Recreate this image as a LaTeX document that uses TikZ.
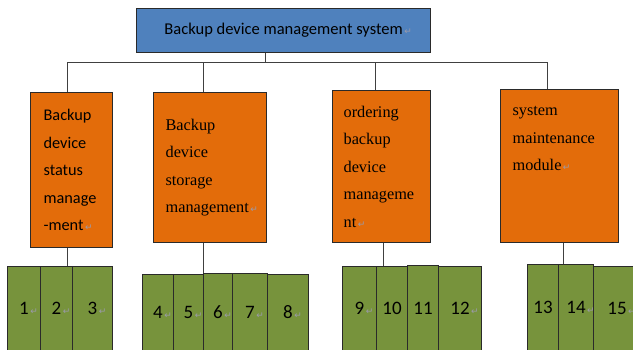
\documentclass[tikz,border=0pt]{standalone}
\usepackage{fontspec}
\setmainfont{Liberation Serif}
\newfontfamily\calfont{Carlito}
\newfontfamily\markfont{DejaVu Sans}
\usepackage{tikz}
\definecolor{sysblue}{HTML}{4F81BD}
\definecolor{modorange}{HTML}{E36C0A}
\definecolor{cellgreen}{HTML}{77933C}
\definecolor{edgegray}{HTML}{2A2A2A}
\definecolor{markgray}{HTML}{9A9AAA}
\tikzset{sysbox/.style={draw=edgegray,line width=1.2pt,fill=sysblue,anchor=north west,inner sep=0pt,font=\calfont\fontsize{16.5}{20}\selectfont}}
\tikzset{module/.style={draw=edgegray,line width=1.2pt,fill=modorange,anchor=north west,inner ysep=0pt,inner xsep=12pt,align=left,font=\fontsize{16.3}{27.5}\selectfont}}
\tikzset{cell/.style={draw=edgegray,line width=1.1pt,fill=cellgreen,anchor=north west,inner sep=0pt,font=\calfont\fontsize{19}{19}\selectfont}}
\tikzset{link/.style={draw=black!75,line width=0.9pt}}
\newcommand*{\RetMark}{\rlap{\markfont\fontsize{9}{9}\selectfont\color{markgray}\,↵}}

\begin{document}
\begin{tikzpicture}[x=1pt,y=1pt]
\clip (0,0) rectangle (633,-349);% page = picture

\node[sysbox,minimum width=294,minimum height=44] (sys) at (136,-8) {Backup device management system\RetMark};

\node[module,inner xsep=13pt,text width=56pt,minimum height=155,font=\calfont\fontsize{16.3}{27.5}\selectfont] (m1) at (30,-92) {Backup\\device\\status\\manage\\-ment\RetMark};
\node[module,text width=89pt,minimum height=150] (m2) at (153,-92) {Backup\\device\\storage\\management\RetMark};
\node[module,inner xsep=11pt,text width=76pt,minimum height=152] (m3) at (332,-90) {ordering\\backup\\device\\manageme\\nt\RetMark};
\node[module,text width=94pt,minimum height=153] (m4) at (500,-89) {system\\maintenance\\module\RetMark\\\mbox{}\\\mbox{}};

\foreach \n/\x/\w/\t/\txt in {1/7/33/266/1\RetMark, 2/40/32/266/2\RetMark, 3/72/40/266/3\RetMark,
    4/142/31/274/4\RetMark, 5/173/30/274/5\RetMark, 6/203/29/273/6\RetMark, 7/232/35/273/7\RetMark, 8/267/41/274/8\RetMark,
    9/342/34/266/9\RetMark, 10/376/31/266/10, 11/407/31/265/11, 12/438/43/266/12\RetMark,
    13/527/31/264/13, 14/558/35/264/14\RetMark, 15/593/47/266/15\RetMark} {%
    \node[cell,minimum width=\w,minimum height=350-\t] (g\n) at (\x,-\t) {\txt};
}

\coordinate (bus) at (265,-62);
\draw[link] (sys.south -| bus) -- (bus);
\draw[link] (bus) -| ([xshift=-4]m1.north);
\draw[link] (bus) -| ([xshift=-6.5]m2.north);
\draw[link] (bus) -| ([xshift=-6]m3.north);
\draw[link] (bus) -| ([xshift=-12]m4.north);

\draw[link] ([xshift=-4]m1.south) -- ([xshift=-4]m1.south |- g2.north);
\draw[link] ([xshift=-6.5]m2.south) -- ([xshift=-6.5]m2.south |- g6.north);
\draw[link] ([xshift=2]m3.south) -- ([xshift=2]m3.south |- g10.north);
\draw[link] ([xshift=4]m4.south) -- ([xshift=4]m4.south |- g14.north);

\end{tikzpicture}
\end{document}
